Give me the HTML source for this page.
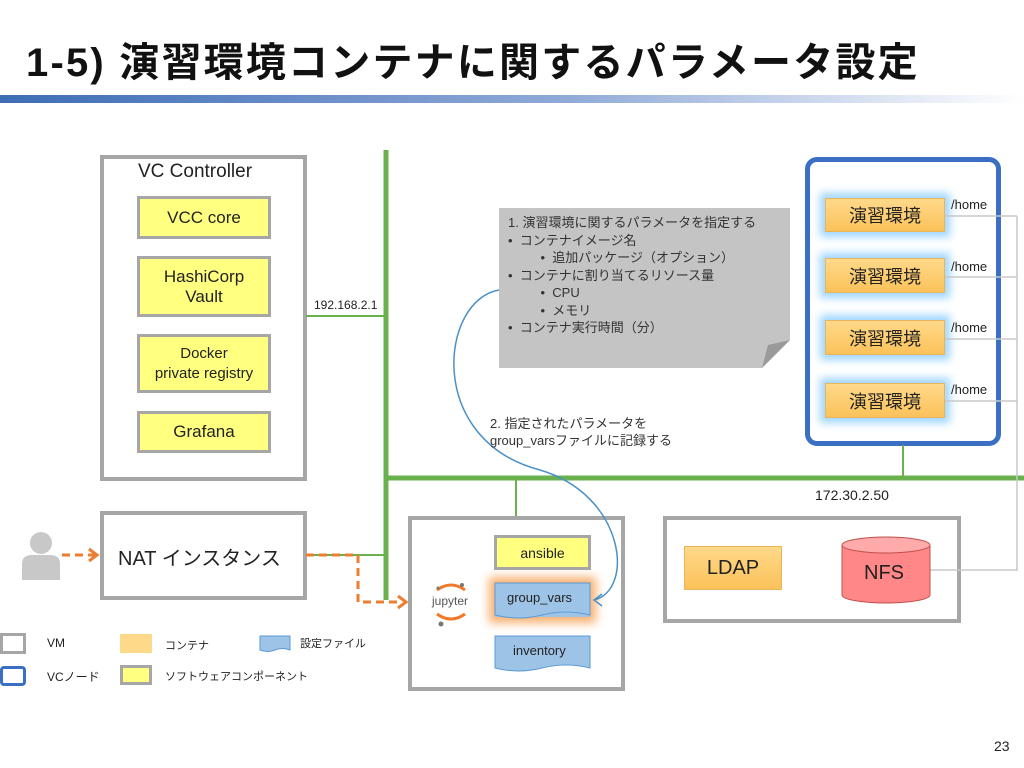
<!DOCTYPE html>
<html><head><meta charset="utf-8"><style>
body{margin:0;width:1024px;height:768px;background:#fff;position:relative;overflow:hidden;font-family:"Liberation Sans","Noto Sans CJK JP",sans-serif;color:#222}
.a{position:absolute;box-sizing:border-box}
.vm{border:4px solid #a6a6a6;background:transparent}
.y{background:#ffff80;border:3px solid #a6a6a6;display:flex;align-items:center;justify-content:center;text-align:center;font-size:17px;line-height:20px}
.o{background:linear-gradient(#ffd98a,#fbc25a);border:1px solid #e9b45a;box-shadow:0 0 8px 5px #9fd6ff;display:flex;align-items:center;justify-content:center;font-size:18px}
.t{position:absolute;white-space:nowrap;z-index:2}
</style></head><body>
<div class="t" style="left:26px;top:30px;font-size:40px;font-weight:bold;color:#111;letter-spacing:2.2px">1-5) 演習環境コンテナに関するパラメータ設定</div>
<div class="a" style="left:0;top:95px;width:1024px;height:8px;background:linear-gradient(90deg,#3d6db5,#8fa9d8 55%,#fff)"></div>
<div class="a" style="left:495px;top:583px;width:95px;height:34px;background:#9dc3e6;box-shadow:0 0 9px 6px #f8b070"></div>

<svg class="a" style="left:0;top:0;z-index:1" width="1024" height="768">
<g stroke="#6ab04c" fill="none">
<line x1="386" y1="150" x2="386" y2="600" stroke-width="5"/>
<line x1="386" y1="478" x2="1024" y2="478" stroke-width="5"/>
<line x1="306" y1="316" x2="386" y2="316" stroke-width="2"/>
<line x1="306" y1="555" x2="386" y2="555" stroke-width="2"/>
<line x1="516" y1="478" x2="516" y2="516" stroke-width="2"/>
<line x1="903" y1="445" x2="903" y2="478" stroke-width="2"/>
</g>
<g stroke="#c8c8c8" fill="none" stroke-width="1.5">
<line x1="945" y1="216" x2="1017" y2="216"/><line x1="945" y1="277" x2="1017" y2="277"/>
<line x1="945" y1="339" x2="1017" y2="339"/><line x1="945" y1="401" x2="1017" y2="401"/>
<polyline points="1017,216 1017,570 930,570"/>
</g>
<g stroke="#ed7d31" stroke-width="3" fill="none" stroke-dasharray="8,5">
<line x1="62" y1="555" x2="96" y2="555"/>
<polyline points="306,555 358,555 358,602 402,602"/>
</g>
<polyline points="89,549 97,555 89,561" stroke="#ed7d31" stroke-width="3" fill="none"/>
<polyline points="398,596 406,602 398,608" stroke="#ed7d31" stroke-width="3" fill="none"/>
<path d="M499,290 C440,300 425,440 540,470 C625,495 635,590 594,600" stroke="#4a90c8" stroke-width="1.5" fill="none"/>
<polyline points="602,594 594,600 602,606" stroke="#4a90c8" stroke-width="1.5" fill="none"/>
<polygon points="499,208 790,208 790,340 762,368 499,368" fill="#c4c4c4"/>
<polygon points="762,368 768,345 790,340" fill="#9a9a9a"/>
<path d="M842,545 v50 a44,8 0 0 0 88,0 v-50" fill="#ff8787" stroke="#c0504d" stroke-width="1"/>
<ellipse cx="886" cy="545" rx="44" ry="8" fill="#ffabab" stroke="#c0504d"/>
<path d="M495,583 h95 v32 q-24,-6 -48,0 t-47,0z" fill="#9dc3e6" stroke="#5b9bd5"/>
<path d="M495,636 h95 v32 q-24,-6 -48,0 t-47,0z" fill="#9dc3e6" stroke="#5b9bd5"/>
<path d="M260,636 h30 v14 q-8,-3 -15,0 t-15,0z" fill="#9dc3e6" stroke="#5b9bd5"/>
<circle cx="41" cy="543" r="11" fill="#c8c8c8"/>
<path d="M22,580 v-16 q0,-9 10,-9 h18 q10,0 10,9 v16z" fill="#c8c8c8"/>
<path d="M437,590 q14,-10 28,0" stroke="#f37726" stroke-width="3" fill="none"/>
<path d="M437,614 q14,10 28,0" stroke="#f37726" stroke-width="3" fill="none"/>
<circle cx="462" cy="585" r="2" fill="#777"/><circle cx="438" cy="588" r="1.5" fill="#777"/><circle cx="441" cy="624" r="2.5" fill="#777"/>
</svg>
<div class="t" style="left:432px;top:594px;font-size:12px;color:#555">jupyter</div>

<div class="a vm" style="left:100px;top:155px;width:207px;height:326px"></div>
<div class="t" style="left:138px;top:161px;font-size:19px">VC Controller</div>
<div class="a y" style="left:137px;top:196px;width:134px;height:43px">VCC core</div>
<div class="a y" style="left:137px;top:256px;width:134px;height:61px">HashiCorp<br>Vault</div>
<div class="a y" style="left:137px;top:334px;width:134px;height:59px;font-size:15px">Docker<br>private registry</div>
<div class="a y" style="left:137px;top:411px;width:134px;height:42px">Grafana</div>
<div class="t" style="left:314px;top:298px;font-size:12px">192.168.2.1</div>

<div class="a vm" style="left:100px;top:511px;width:207px;height:89px"></div>
<div class="t" style="left:118px;top:542px;font-size:20px">NAT インスタンス</div>

<div class="t" style="left:508px;top:214px;font-size:13px;line-height:17.5px;color:#333">1. 演習環境に関するパラメータを指定する<br>•&nbsp; コンテナイメージ名<br>&nbsp;&nbsp;&nbsp;&nbsp;&nbsp;&nbsp;&nbsp;&nbsp;&nbsp;•&nbsp; 追加パッケージ（オプション）<br>•&nbsp; コンテナに割り当てるリソース量<br>&nbsp;&nbsp;&nbsp;&nbsp;&nbsp;&nbsp;&nbsp;&nbsp;&nbsp;•&nbsp; CPU<br>&nbsp;&nbsp;&nbsp;&nbsp;&nbsp;&nbsp;&nbsp;&nbsp;&nbsp;•&nbsp; メモリ<br>•&nbsp; コンテナ実行時間（分）</div>
<div class="t" style="left:490px;top:415px;font-size:13px;line-height:17px;color:#333">2. 指定されたパラメータを<br>group_varsファイルに記録する</div>

<div class="a" style="left:805px;top:157px;width:196px;height:289px;border:5px solid #3a6fc4;border-radius:12px"></div>
<div class="a o" style="left:825px;top:198px;width:120px;height:34px">演習環境</div>
<div class="a o" style="left:825px;top:258px;width:120px;height:35px">演習環境</div>
<div class="a o" style="left:825px;top:320px;width:120px;height:35px">演習環境</div>
<div class="a o" style="left:825px;top:383px;width:120px;height:35px">演習環境</div>
<div class="t" style="left:951px;top:197px;font-size:13px">/home</div>
<div class="t" style="left:951px;top:259px;font-size:13px">/home</div>
<div class="t" style="left:951px;top:320px;font-size:13px">/home</div>
<div class="t" style="left:951px;top:382px;font-size:13px">/home</div>
<div class="t" style="left:815px;top:487px;font-size:14px">172.30.2.50</div>

<div class="a vm" style="left:663px;top:516px;width:298px;height:107px"></div>
<div class="a o" style="left:684px;top:546px;width:98px;height:44px;box-shadow:none;font-size:20px">LDAP</div>
<div class="t" style="left:864px;top:562px;font-size:20px">NFS</div>

<div class="a vm" style="left:408px;top:516px;width:217px;height:175px"></div>
<div class="a y" style="left:494px;top:535px;width:97px;height:35px;font-size:14px">ansible</div>
<div class="t" style="left:507px;top:590px;font-size:13px">group_vars</div>
<div class="t" style="left:513px;top:643px;font-size:13px">inventory</div>

<div class="a" style="left:0;top:633px;width:26px;height:21px;border:3px solid #a6a6a6"></div>
<div class="t" style="left:47px;top:636px;font-size:12px">VM</div>
<div class="a" style="left:0;top:666px;width:26px;height:20px;border:3px solid #3a6fc4;border-radius:4px"></div>
<div class="t" style="left:47px;top:668px;font-size:12px">VCノード</div>
<div class="a" style="left:120px;top:634px;width:32px;height:19px;background:#ffd98a"></div>
<div class="t" style="left:165px;top:637px;font-size:11px">コンテナ</div>
<div class="a" style="left:120px;top:665px;width:32px;height:20px;background:#ffff80;border:3px solid #a6a6a6"></div>
<div class="t" style="left:165px;top:668px;font-size:11px">ソフトウェアコンポーネント</div>
<div class="t" style="left:300px;top:635px;font-size:11px">設定ファイル</div>
<div class="t" style="left:994px;top:738px;font-size:14px">23</div>
</body></html>
